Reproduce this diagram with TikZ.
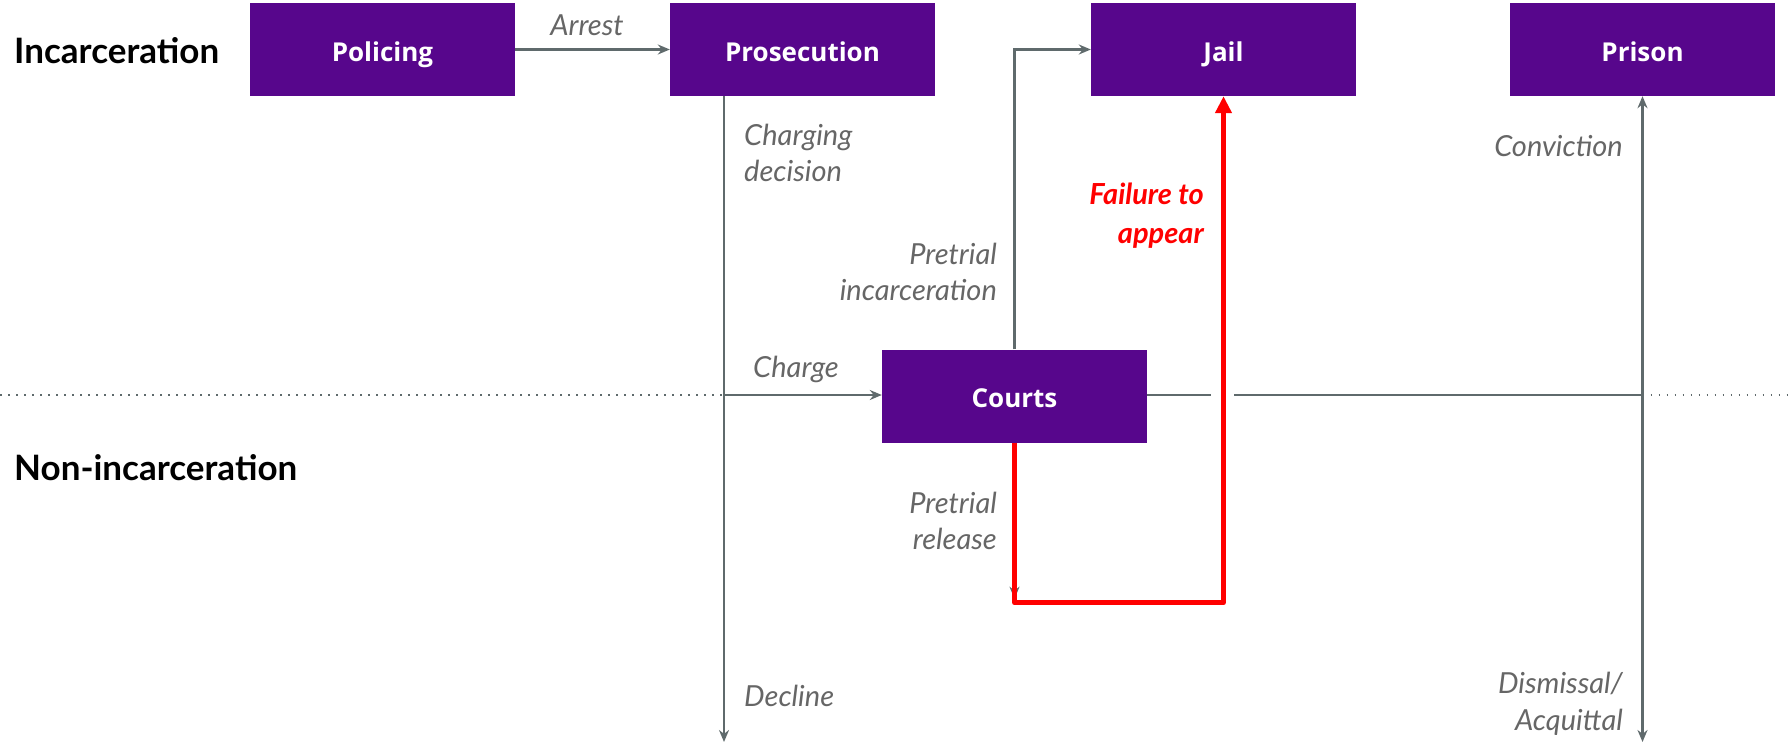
\documentclass[tikz,border=0pt]{standalone}
\usepackage{fontspec}
\setmainfont{Lato}
\newfontfamily\stagefont{Open Sans}
\usetikzlibrary{arrows.meta,calc}
\definecolor{stageviolet}{HTML}{57068C}
\definecolor{flowgray}{HTML}{5F6A6C}
\definecolor{notegray}{HTML}{666666}
\definecolor{failred}{HTML}{FF0000}

\begin{document}
\begin{tikzpicture}[x=1pt,y=-1pt,
  stage/.style={fill=stageviolet,text=white,minimum width=265pt,minimum height=93pt,inner sep=0pt,
    text height=28pt,text depth=5pt,font=\stagefont\bfseries\fontsize{26}{30}\selectfont},
  tier/.style={anchor=west,inner sep=0pt,font=\bfseries\fontsize{35}{40}\selectfont},
  note/.style={text=notegray,inner sep=0pt,font=\itshape\fontsize{29}{36.5}\selectfont},
  flow/.style={draw=flowgray,line width=2.1pt},
  tip/.style={-{Stealth[length=12pt,width=10pt]}}]
  \useasboundingbox (0,0) rectangle (1791,744);
  \node[stage] (policing) at (382.5,49.5) {Policing};
  \node[stage] (prosecution) at (802.5,49.5) {Prosecution};
  \node[stage] (jail) at (1223.5,49.5) {Jail};
  \node[stage] (prison) at (1642.5,49.5) {Prison};
  \node[stage] (courts) at (1014.5,396) {Courts};
  \node[tier] (incarc) at (14,51) {Incarceration};
  \node[tier] (nonincarc) at (14,468) {Non-incarceration};
  \coordinate (split) at (724,395);
  \coordinate (declineend) at (724,742);
  \coordinate (verdict) at (1642.5,395);
  \coordinate (verdictend) at (1642.5,742);
  \coordinate (hopleft) at (1211,395);
  \coordinate (hopright) at (1234,395);
  \coordinate (leftedge) at (0,395);
  \coordinate (rightedge) at (1791,395);
  \draw[flowgray,line width=1.6pt,dash pattern=on 1.6pt off 6.4pt] (leftedge) -- (split);
  \draw[flowgray,line width=1.6pt,dash pattern=on 1.6pt off 6.4pt] (verdict) -- (rightedge);
  \draw[flow,tip] (policing) -- (prosecution);
  \draw[flow,tip] (prosecution.south -| split) -- (declineend);
  \draw[flow,tip] (split) -- (split -| courts.west);
  \draw[flow,tip] (courts.north) |- (jail.west);
  \draw[flow] (hopleft -| courts.east) -- (hopleft);
  \draw[flow] (hopright) -- (verdict);
  \draw[flow,{Stealth[length=12pt,width=10pt]}-{Stealth[length=12pt,width=10pt]}] (prison.south) -- (verdictend);
  \draw[flow,tip] (courts.south) -- ++(0,156);
  \draw[failred,line width=5pt,line join=round,-{Triangle[length=17pt,width=16pt]}]
    (courts.south) -- ++(0,160) -| (jail.south);
  \node[note] (arrest) at (587,25) {Arrest};
  \node[note,anchor=west,align=left] (charging) at (744,153) {Charging\\decision};
  \node[note] (charge) at (796,369) {Charge};
  \node[note,anchor=west] (decline) at (744,696) {Decline};
  \node[note,anchor=east,align=right] (pretrialinc) at (997,272) {Pretrial\\incarceration};
  \node[note,anchor=east,align=right] (pretrialrel) at (997,521) {Pretrial\\release};
  \node[note,anchor=east,align=right,text=failred,font=\bfseries\itshape\fontsize{29}{39}\selectfont] (failure) at (1204,216) {Failure to\\appear};
  \node[note,anchor=east] (conviction) at (1623,146) {Conviction};
  \node[note,anchor=east,align=right] (dismissal) at (1623,704) {Dismissal/\\Acquittal};
\end{tikzpicture}
\end{document}
